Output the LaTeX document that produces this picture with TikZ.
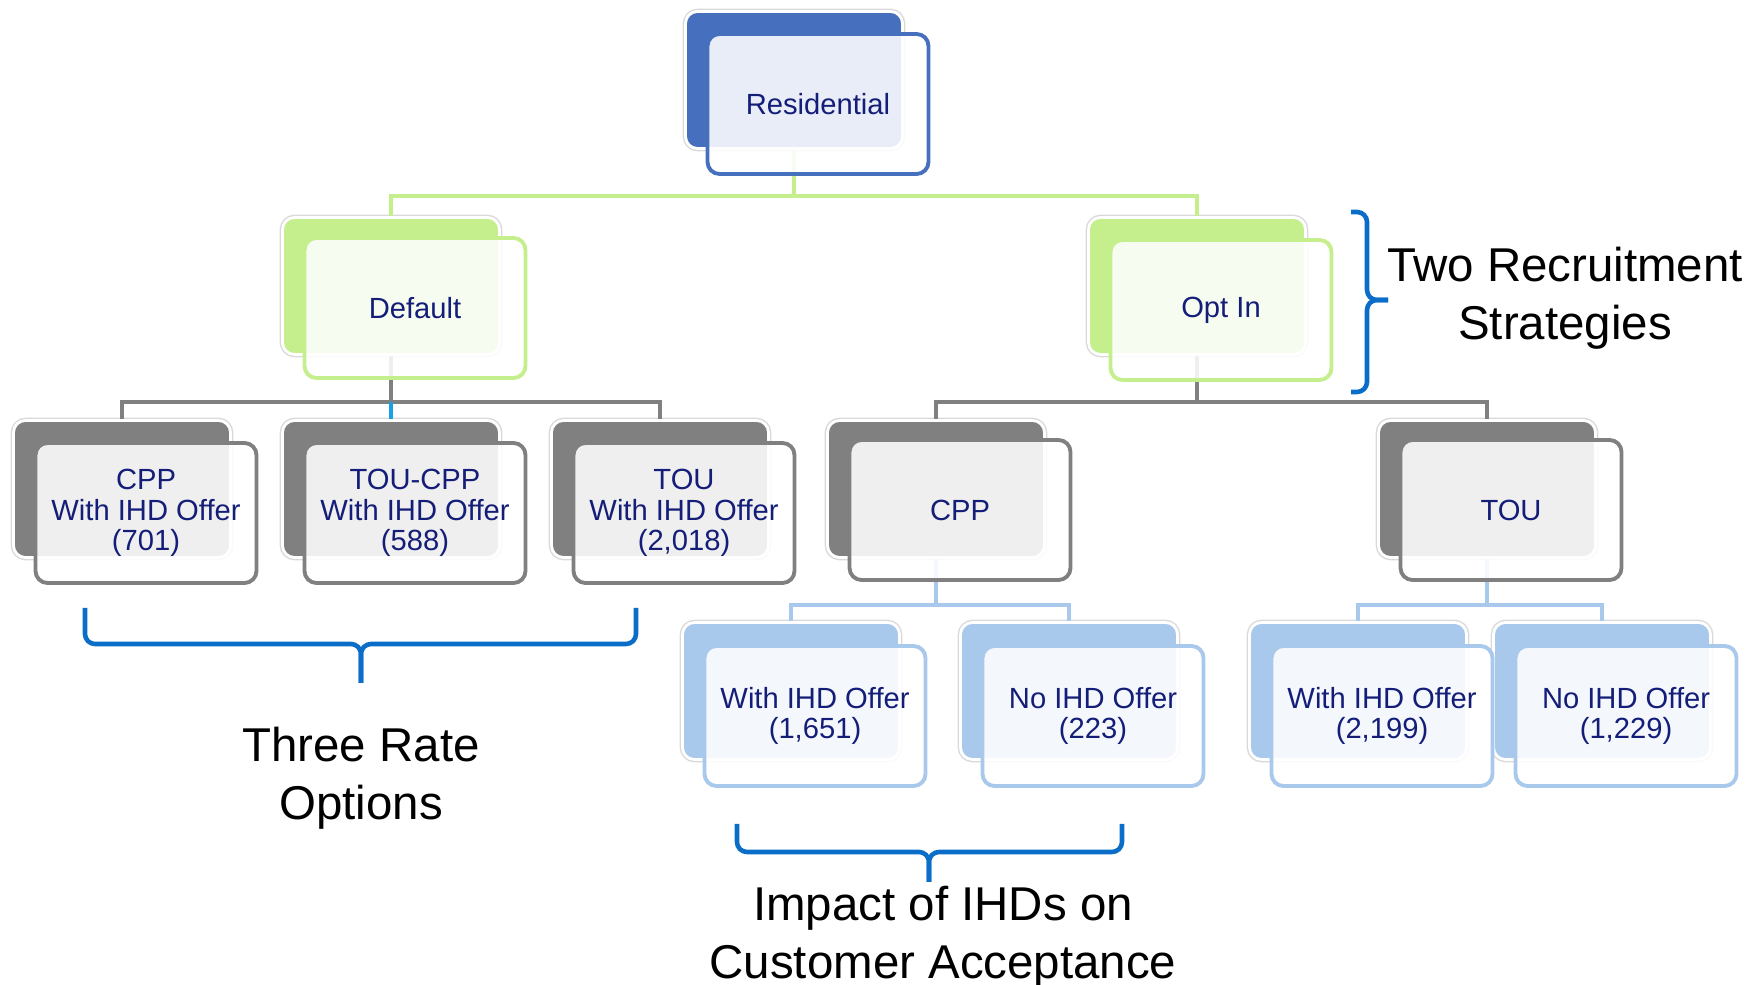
\documentclass[tikz,border=0pt]{standalone}
\usepackage{fontspec}
\setmainfont{Liberation Sans}
\usetikzlibrary{positioning}
\definecolor{resblue}{RGB}{70,112,190}
\definecolor{leafgreen}{RGB}{197,238,140}
\definecolor{rategrey}{RGB}{128,128,128}
\definecolor{paleblue}{RGB}{168,200,236}
\definecolor{midcyan}{RGB}{25,160,230}
\definecolor{braceblue}{RGB}{10,110,200}
\definecolor{navytext}{RGB}{20,30,120}
\begin{document}
\begin{tikzpicture}
        [back/.style={rectangle, rounded corners=0.12cm, inner sep=0pt,
            minimum width=2.17cm, minimum height=1.37cm, fill=#1,
            draw=white, line width=0.8pt, preaction={draw=black!15, line width=1.6pt}},
        front/.style={rectangle, rounded corners=0.12cm, inner sep=0pt, on grid,
            minimum width=2.21cm, minimum height=1.40cm, draw=#1, line width=1.1pt,
            fill=white, fill opacity=0.88, text opacity=1, text=navytext,
            align=center, font=\fontsize{8.3}{8.6}\selectfont},
        link/.style={line width=1.2pt, draw=#1},
        brace/.style={line width=1.3pt, draw=braceblue, rounded corners=0.1cm},
        note/.style={align=center, font=\fontsize{13.5}{16.6}\selectfont}]
        \useasboundingbox (0,0) rectangle (17.5,9.85);
        % back cards
        \node[back=resblue] (res) at (7.94,9.05) {};
        \node[back=leafgreen] (def) at (3.91,6.99) {};
        \node[back=leafgreen] (optin) at (11.97,6.99) {};
        \node[back=rategrey] (cppd) at (1.22,4.96) {};
        \node[back=rategrey] (toucpp) at (3.91,4.96) {};
        \node[back=rategrey] (toud) at (6.60,4.96) {};
        \node[back=rategrey] (cppo) at (9.36,4.96) {};
        \node[back=rategrey] (touo) at (14.87,4.96) {};
        \node[back=paleblue] (withc) at (7.91,2.94) {};
        \node[back=paleblue] (noc) at (10.69,2.94) {};
        \node[back=paleblue] (witht) at (13.58,2.94) {};
        \node[back=paleblue] (not) at (16.02,2.94) {};
        % connectors
        \draw[link=leafgreen] (res.south) -- ++(0,-0.46) -| (def.north);
        \draw[link=leafgreen] (res.south) -- ++(0,-0.46) -| (optin.north);
        \draw[link=rategrey] (def.south) -- ++(0,-0.46) coordinate (def-bar) -| (cppd.north);
        \draw[link=rategrey] (def.south) -- ++(0,-0.46) -| (toud.north);
        \draw[link=midcyan] (def-bar) -- (toucpp.north);
        \draw[link=rategrey] (optin.south) -- ++(0,-0.46) -| (cppo.north);
        \draw[link=rategrey] (optin.south) -- ++(0,-0.46) -| (touo.north);
        \draw[link=paleblue] (cppo.south) -- ++(0,-0.46) -| (withc.north);
        \draw[link=paleblue] (cppo.south) -- ++(0,-0.46) -| (noc.north);
        \draw[link=paleblue] (touo.south) -- ++(0,-0.46) -| (witht.north);
        \draw[link=paleblue] (touo.south) -- ++(0,-0.46) -| (not.north);
        % front cards
        \node[front=resblue, below right=0.24cm and 0.24cm of res] (res-f) {Residential};
        \node[front=leafgreen, below right=0.22cm and 0.24cm of def] (def-f) {Default};
        \node[front=leafgreen, below right=0.24cm and 0.24cm of optin] (optin-f) {Opt In};
        \node[front=rategrey, below right=0.24cm and 0.24cm of cppd] (cppd-f) {CPP\\With IHD Offer\\(701)};
        \node[front=rategrey, below right=0.24cm and 0.24cm of toucpp] (toucpp-f) {TOU-CPP\\With IHD Offer\\(588)};
        \node[front=rategrey, below right=0.24cm and 0.24cm of toud] (toud-f) {TOU\\With IHD Offer\\(2,018)};
        \node[front=rategrey, below right=0.21cm and 0.24cm of cppo] (cppo-f) {CPP};
        \node[front=rategrey, below right=0.21cm and 0.24cm of touo] (touo-f) {TOU};
        \node[front=paleblue, below right=0.25cm and 0.24cm of withc] (withc-f) {With IHD Offer\\(1,651)};
        \node[front=paleblue, below right=0.25cm and 0.24cm of noc] (noc-f) {No IHD Offer\\(223)};
        \node[front=paleblue, below right=0.25cm and 0.24cm of witht] (witht-f) {With IHD Offer\\(2,199)};
        \node[front=paleblue, below right=0.25cm and 0.24cm of not] (not-f) {No IHD Offer\\(1,229)};
        % braces
        \coordinate (two-u) at (13.51,7.73);
        \coordinate (two-d) at (13.51,5.93);
        \coordinate (two-bar) at (13.67,6.85);
        \coordinate (two-t) at (13.88,6.85);
        \draw[brace] (two-u) -| (two-bar) -- (two-t);
        \draw[brace] (two-d) -| (two-bar) -- (two-t);
        \coordinate (three-l) at (0.85,3.77);
        \coordinate (three-r) at (6.36,3.77);
        \coordinate (three-bar) at (3.61,3.41);
        \coordinate (three-t) at (3.61,3.02);
        \draw[brace] (three-l) |- (three-bar) -- (three-t);
        \draw[brace] (three-r) |- (three-bar) -- (three-t);
        \coordinate (imp-l) at (7.37,1.61);
        \coordinate (imp-r) at (11.22,1.61);
        \coordinate (imp-bar) at (9.29,1.33);
        \coordinate (imp-t) at (9.29,1.03);
        \draw[brace] (imp-l) |- (imp-bar) -- (imp-t);
        \draw[brace] (imp-r) |- (imp-bar) -- (imp-t);
        % notes
        \node[note] (two-txt) at (15.65,6.87) {Two Recruitment\\Strategies};
        \node[note] (three-txt) at (3.61,2.065) {Three Rate\\Options};
        \node[note] (imp-txt) at (9.43,0.475) {Impact of IHDs on\\Customer Acceptance};
    \end{tikzpicture}
\end{document}
